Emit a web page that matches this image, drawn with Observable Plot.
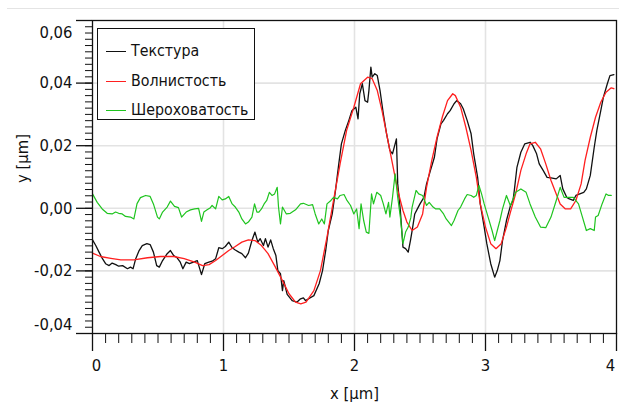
<!DOCTYPE html>
<html>
<head>
<meta charset="utf-8">
<script src="https://cdn.jsdelivr.net/npm/d3@7"></script>
<script src="https://cdn.jsdelivr.net/npm/@observablehq/plot@0.6"></script>
<style>
  html, body { margin: 0; padding: 0; background: #fff; }
  #wrap { position: relative; width: 619px; height: 410px; overflow: hidden; font-family: "DejaVu Sans Condensed", "Liberation Sans Narrow", sans-serif; }
  #topline { position: absolute; left: 7px; right: 0; top: 8px; height: 0; border-top: 1px solid #e4e4e4; }
  #legend { position: absolute; left: 97px; top: 28px; width: 156px; height: 90px; border: 1px solid #111; background: #fff; font-size: 15.8px; }
  .item { position: absolute; left: 0; height: 20px; width: 100%; }
  .sw { position: absolute; left: 8px; width: 20px; top: 10px; border-top: 1.3px solid; }
  .lb { position: absolute; left: 33px; top: 0; line-height: 20px; color: #111; white-space: nowrap; }
</style>
</head>
<body>
<div id="wrap">
  <div id="topline"></div>
  <div id="chart"></div>
  <div id="legend"></div>
</div>
<script>
// Series names (legend order) and colours
const seriesNames = ["Текстура", "Волнистость", "Шероховатость"];
const seriesColors = ["#111111", "#ff1f1f", "#1fc41f"];

// Texture (black) : [x µm, y µm]
const texture = [
[0,-0.0101],[0.025,-0.0119],[0.05,-0.0140],[0.076,-0.0161],[0.1,-0.0177],[0.127,-0.0183],[0.15,-0.0175],[0.178,-0.0180],[0.2,-0.0185],[0.23,-0.0183],
[0.267,-0.0193],[0.29,-0.0188],[0.31,-0.0193],[0.33,-0.0161],[0.356,-0.0135],[0.38,-0.0119],[0.415,-0.0113],[0.44,-0.0116],[0.465,-0.0140],[0.49,-0.0183],
[0.51,-0.0188],[0.535,-0.0167],[0.57,-0.0145],[0.595,-0.0135],[0.62,-0.0151],[0.646,-0.0158],[0.67,-0.0172],[0.69,-0.0193],[0.715,-0.0172],[0.74,-0.0177],
[0.77,-0.0172],[0.8,-0.0167],[0.832,-0.0212],[0.857,-0.0177],[0.888,-0.0172],[0.913,-0.0169],[0.94,-0.0161],[0.964,-0.0126],[0.99,-0.0129],[1.014,-0.0122],
[1.04,-0.0108],[1.066,-0.0126],[1.09,-0.0133],[1.117,-0.0140],[1.14,-0.0145],[1.168,-0.0158],[1.19,-0.0143],[1.217,-0.0103],[1.24,-0.0076],[1.262,-0.0108],
[1.28,-0.0097],[1.305,-0.0119],[1.32,-0.0097],[1.34,-0.0124],[1.36,-0.0101],[1.38,-0.0129],[1.4,-0.0151],[1.415,-0.0199],[1.435,-0.0209],[1.45,-0.0263],
[1.46,-0.0231],[1.486,-0.0275],[1.524,-0.0295],[1.56,-0.0300],[1.588,-0.0289],[1.61,-0.0286],[1.626,-0.0295],[1.65,-0.0289],[1.69,-0.0279],[1.73,-0.0241],
[1.756,-0.0199],[1.78,-0.0135],[1.8,-0.0071],[1.83,-0.0018],[1.855,0.0057],[1.88,0.0142],[1.9,0.0206],[1.93,0.0249],[1.957,0.0281],[1.98,0.0312],
[2.01,0.0323],[2.027,0.0286],[2.04,0.0366],[2.06,0.0398],[2.08,0.0344],[2.1,0.0339],[2.11,0.0376],[2.125,0.0451],[2.135,0.0419],[2.155,0.0430],
[2.174,0.0424],[2.195,0.0376],[2.22,0.0302],[2.245,0.0238],[2.27,0.0185],[2.29,0.0174],[2.32,0.0222],[2.33,0.0078],[2.35,-0.0007],[2.37,-0.0124],
[2.39,-0.0129],[2.41,-0.0140],[2.427,-0.0103],[2.44,-0.0071],[2.46,-0.0018],[2.48,-0.0002],[2.5,0.0014],[2.53,0.0035],[2.55,0.0078],[2.58,0.0121],
[2.61,0.0163],[2.63,0.0222],[2.66,0.0270],[2.68,0.0281],[2.71,0.0302],[2.73,0.0312],[2.76,0.0334],[2.78,0.0344],[2.81,0.0334],[2.83,0.0318],
[2.86,0.0281],[2.89,0.0238],[2.91,0.0174],[2.94,0.0099],[2.96,0.0014],[2.99,-0.0060],[3.01,-0.0113],[3.04,-0.0177],[3.07,-0.0220],[3.09,-0.0199],
[3.11,-0.0167],[3.13,-0.0103],[3.16,-0.0039],[3.19,0.0008],[3.21,0.0025],[3.22,0.0057],[3.24,0.0131],[3.27,0.0179],[3.3,0.0206],[3.34,0.0211],
[3.36,0.0201],[3.39,0.0174],[3.41,0.0142],[3.44,0.0121],[3.47,0.0099],[3.5,0.0097],[3.54,0.0094],[3.57,0.0105],[3.59,0.0062],[3.62,0.0035],
[3.64,0.0030],[3.67,0.0025],[3.69,0.0041],[3.72,0.0046],[3.75,0.0051],[3.77,0.0062],[3.8,0.0105],[3.83,0.0195],[3.85,0.0249],[3.88,0.0312],
[3.9,0.0355],[3.93,0.0398],[3.95,0.0424],[3.98,0.0427]
];

// Waviness (red)
const waviness = [
[0,-0.0143],[0.06,-0.0154],[0.14,-0.0160],[0.216,-0.0165],[0.316,-0.0165],[0.42,-0.0158],[0.52,-0.0154],[0.62,-0.0154],[0.7,-0.0161],[0.78,-0.0172],
[0.84,-0.0183],[0.89,-0.0180],[0.94,-0.0167],[0.99,-0.0151],[1.04,-0.0135],[1.09,-0.0122],[1.14,-0.0108],[1.19,-0.0101],[1.24,-0.0103],[1.29,-0.0119],
[1.34,-0.0145],[1.39,-0.0183],[1.45,-0.0231],[1.5,-0.0273],[1.55,-0.0300],[1.59,-0.0305],[1.63,-0.0300],[1.69,-0.0263],[1.74,-0.0199],[1.79,-0.0092],
[1.84,0.0025],[1.89,0.0142],[1.94,0.0249],[1.995,0.0323],[2.046,0.0398],[2.1,0.0419],[2.135,0.0414],[2.174,0.0376],[2.21,0.0312],[2.25,0.0227],
[2.29,0.0142],[2.33,0.0057],[2.37,-0.0007],[2.4,-0.0044],[2.44,-0.0071],[2.48,-0.0060],[2.52,-0.0018],[2.55,0.0067],[2.59,0.0153],[2.63,0.0227],
[2.67,0.0291],[2.71,0.0344],[2.75,0.0366],[2.77,0.0360],[2.81,0.0323],[2.85,0.0259],[2.89,0.0185],[2.93,0.0099],[2.96,0.0014],[3.0,-0.0060],
[3.04,-0.0113],[3.08,-0.0129],[3.12,-0.0113],[3.16,-0.0060],[3.19,-0.0013],[3.23,0.0046],[3.27,0.0121],[3.31,0.0174],[3.34,0.0206],[3.38,0.0211],
[3.42,0.0190],[3.46,0.0142],[3.5,0.0089],[3.54,0.0046],[3.57,0.0014],[3.61,-0.0002],[3.65,-0.0002],[3.69,0.0025],[3.73,0.0078],[3.76,0.0153],
[3.8,0.0227],[3.84,0.0291],[3.88,0.0339],[3.92,0.0371],[3.96,0.0385],[3.98,0.0382]
];

// Roughness (green)
const roughness = [
[0,0.0046],[0.036,0.0019],[0.074,-0.0002],[0.112,-0.0016],[0.15,-0.0018],[0.176,-0.0012],[0.2,-0.0016],[0.227,-0.0018],[0.252,-0.0026],[0.29,-0.0028],
[0.316,-0.0034],[0.34,0.0015],[0.366,0.0034],[0.405,0.0041],[0.44,0.0038],[0.465,0.0014],[0.496,-0.0028],[0.51,-0.0034],[0.535,-0.0012],[0.57,0.0004],
[0.595,0.0023],[0.626,0.0006],[0.656,0.0002],[0.68,-0.0028],[0.715,-0.0012],[0.748,-0.0005],[0.78,-0.0002],[0.81,0.0000],[0.832,-0.0042],[0.85,-0.0012],
[0.875,-0.0005],[0.9,0.0002],[0.913,0.0009],[0.94,-0.0002],[0.964,0.0038],[0.99,0.0027],[1.014,0.0030],[1.04,0.0038],[1.066,0.0014],[1.09,0.0004],
[1.117,-0.0012],[1.14,-0.0034],[1.168,-0.0050],[1.19,-0.0044],[1.217,-0.0028],[1.237,0.0014],[1.255,-0.0012],[1.27,-0.0012],[1.29,-0.0002],[1.31,0.0014],
[1.33,0.0025],[1.35,0.0051],[1.37,0.0041],[1.39,0.0046],[1.41,0.0067],[1.42,0.0004],[1.435,-0.0050],[1.45,0.0004],[1.48,-0.0018],[1.51,-0.0016],
[1.55,-0.0005],[1.588,0.0014],[1.61,0.0016],[1.65,0.0009],[1.68,0.0012],[1.7,-0.0018],[1.727,-0.0050],[1.75,-0.0034],[1.77,-0.0050],[1.79,0.0014],
[1.82,0.0025],[1.84,0.0035],[1.87,0.0030],[1.89,0.0041],[1.92,0.0044],[1.94,0.0027],[1.97,0.0009],[1.995,-0.0018],[2.016,-0.0002],[2.035,-0.0065],
[2.05,0.0014],[2.07,-0.0039],[2.09,-0.0076],[2.11,-0.0080],[2.13,0.0046],[2.145,0.0014],[2.17,0.0051],[2.2,0.0041],[2.22,0.0014],[2.24,-0.0018],
[2.26,0.0019],[2.27,-0.0028],[2.29,0.0035],[2.31,0.0110],[2.33,0.0035],[2.35,-0.0028],[2.37,-0.0113],[2.39,-0.0076],[2.41,-0.0060],[2.43,-0.0030],
[2.44,0.0004],[2.47,0.0057],[2.49,0.0046],[2.52,0.0041],[2.55,0.0009],[2.57,0.0019],[2.6,0.0004],[2.62,-0.0002],[2.65,-0.0002],[2.68,-0.0018],
[2.7,-0.0034],[2.74,-0.0055],[2.76,-0.0039],[2.79,-0.0007],[2.81,0.0004],[2.84,0.0030],[2.86,0.0044],[2.89,0.0041],[2.91,0.0035],[2.93,0.0041],
[2.95,0.0073],[2.97,0.0046],[2.99,0.0014],[3.02,-0.0028],[3.05,-0.0071],[3.07,-0.0103],[3.09,-0.0071],[3.11,-0.0039],[3.13,-0.0002],[3.16,0.0041],
[3.19,0.0008],[3.21,0.0030],[3.23,0.0051],[3.27,0.0062],[3.31,0.0051],[3.34,0.0014],[3.38,-0.0028],[3.42,-0.0060],[3.46,-0.0062],[3.5,-0.0028],
[3.54,0.0025],[3.57,0.0067],[3.6,0.0035],[3.63,0.0035],[3.67,0.0035],[3.71,0.0014],[3.74,-0.0028],[3.77,-0.0071],[3.8,-0.0065],[3.83,-0.0071],
[3.84,-0.0028],[3.86,-0.0023],[3.89,0.0014],[3.92,0.0046],[3.94,0.0041],[3.96,0.0041]
];

// Axis ticks and labels
const xTickValues = [0, 1, 2, 3, 4];
const xTickLabels = ["0", "1", "2", "3", "4"];
const yTickValues = [-0.04, -0.02, 0, 0.02, 0.04, 0.06];
const yTickLabels = ["-0,04", "-0,02", "0,00", "0,02", "0,04", "0,06"];
const xGridValues = [1, 2, 3];
const yGridValues = [-0.02, 0, 0.02, 0.04];
const xMinorTicks = d3.range(0, 41).map(i => i / 10);
const yMinorTicks = d3.range(0, 51).map(i => -0.04 + i * 0.002);
const xTitle = "x [µm]";
const yTitle = "y [µm]";

const xT = xTickValues.map((v, i) => ({v, t: xTickLabels[i]}));
const yT = yTickValues.map((v, i) => ({v, t: yTickLabels[i]}));
const fam = "DejaVu Sans Condensed, Liberation Sans Narrow, sans-serif";

const chart = Plot.plot({
  width: 619,
  height: 410,
  marginLeft: 92,
  marginRight: 3,
  marginTop: 20,
  marginBottom: 77,
  x: {domain: [0, 4]},
  y: {domain: [-0.04, 0.06]},
  style: {fontFamily: fam, fontSize: "16.5px", color: "#111", background: "transparent", overflow: "visible"},
  marks: [
    Plot.gridX(xGridValues, {stroke: "#e3e3e3", strokeOpacity: 1, strokeWidth: 1.6}),
    Plot.gridY(yGridValues, {stroke: "#e3e3e3", strokeOpacity: 1, strokeWidth: 1.6}),
    Plot.line(texture, {x: d => d[0], y: d => d[1], stroke: seriesColors[0], strokeWidth: 1.3}),
    Plot.line(waviness, {x: d => d[0], y: d => d[1], stroke: seriesColors[1], strokeWidth: 1.3}),
    Plot.line(roughness, {x: d => d[0], y: d => d[1], stroke: seriesColors[2], strokeWidth: 1.2}),
    Plot.frame({stroke: "#111", strokeWidth: 1.3}),
    Plot.axisX({ticks: xMinorTicks, tickSize: 10, tickFormat: () => "", label: null, stroke: "#111"}),
    Plot.axisX({ticks: xTickValues, tickSize: 18, tickFormat: () => "", label: null, stroke: "#111", strokeWidth: 1.3}),
    Plot.axisY({ticks: yMinorTicks, tickSize: 7, tickFormat: () => "", label: null, stroke: "#111"}),
    Plot.axisY({ticks: yTickValues, tickSize: 16, tickFormat: () => "", label: null, stroke: "#111", strokeWidth: 1.3}),
    Plot.text(xT.slice(1, 4), {x: "v", text: "t", frameAnchor: "bottom", dy: 37, fill: "#111"}),
    Plot.text(xT.slice(0, 1), {x: "v", text: "t", frameAnchor: "bottom", dy: 37, dx: 4, fill: "#111"}),
    Plot.text(xT.slice(4), {x: "v", text: "t", frameAnchor: "bottom", dy: 37, dx: -6, fill: "#111"}),
    Plot.text(yT.slice(1, 5), {y: "v", text: "t", frameAnchor: "left", dx: -20, textAnchor: "end", fill: "#111"}),
    Plot.text(yT.slice(5), {y: "v", text: "t", frameAnchor: "left", dx: -20, dy: 12, textAnchor: "end", fill: "#111"}),
    Plot.text(yT.slice(0, 1), {y: "v", text: "t", frameAnchor: "left", dx: -20, dy: -9, textAnchor: "end", fill: "#111"}),
    Plot.text([xTitle], {text: d => d, frameAnchor: "bottom", dy: 65, fill: "#111"}),
    Plot.text([yTitle], {text: d => d, frameAnchor: "left", dx: -70, dy: 6, rotate: -90, fill: "#111"})
  ]
});
document.getElementById("chart").appendChild(chart);

const legend = document.getElementById("legend");
seriesNames.forEach((name, i) => {
  const it = document.createElement("div");
  it.className = "item";
  it.style.top = (12 + i * 29.5) + "px";
  it.innerHTML = `<div class="sw" style="border-color:${seriesColors[i]}"></div><div class="lb">${name}</div>`;
  legend.appendChild(it);
});
</script>
</body>
</html>
